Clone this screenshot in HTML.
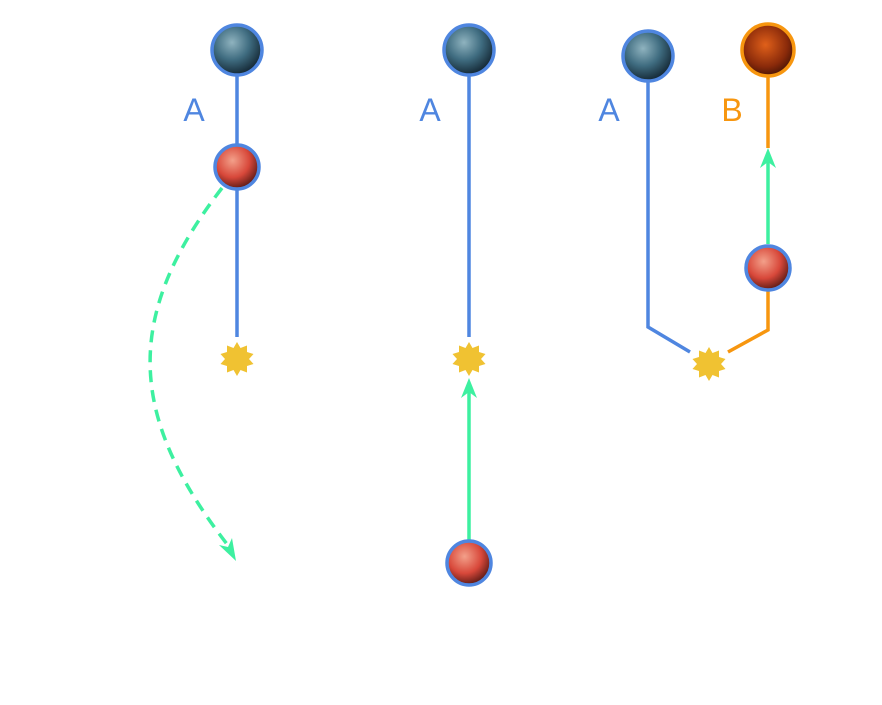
<!DOCTYPE html>
<html><head><meta charset="utf-8"><style>body{margin:0;background:#fff}svg{display:block}</style></head><body>
<svg width="882" height="705" viewBox="0 0 882 705" xmlns="http://www.w3.org/2000/svg">
<defs>
<radialGradient id="earth" cx="40%" cy="35%" r="70%"><stop offset="0" stop-color="#8fb3bf"/><stop offset="0.5" stop-color="#3f6c80"/><stop offset="1" stop-color="#0e1e2a"/></radialGradient>
<radialGradient id="mars" cx="40%" cy="35%" r="70%"><stop offset="0" stop-color="#f3a08a"/><stop offset="0.55" stop-color="#d8483a"/><stop offset="1" stop-color="#4a1410"/></radialGradient>
<radialGradient id="lava" cx="45%" cy="40%" r="70%"><stop offset="0" stop-color="#e0601a"/><stop offset="0.6" stop-color="#8a2a0a"/><stop offset="1" stop-color="#2a0a04"/></radialGradient>
<g id="sun"><polygon fill="#f0c232" points="0,-17 3.5,-11 10,-13.5 10,-7 16.5,-5 12,0 16.5,5 10,7 10,13.5 3.5,11 0,17 -3.5,11 -10,13.5 -10,7 -16.5,5 -12,0 -16.5,-5 -10,-7 -10,-13.5 -3.5,-11"/></g>
</defs>
<g fill="none" stroke-width="3.5">
<line x1="237" y1="75" x2="237" y2="145" stroke="#4f86e0"/>
<line x1="237" y1="190" x2="237" y2="337" stroke="#4f86e0"/>
<path d="M222,188 C120,320 130,420 230,548" stroke="#3df0a0" stroke-dasharray="12,8"/>
<line x1="469" y1="75" x2="469" y2="337" stroke="#4f86e0"/>
<line x1="469" y1="540" x2="469" y2="385" stroke="#3df0a0"/>
<polyline points="648,82 648,327 690,352" stroke="#4f86e0"/>
<polyline points="728,352 768,330 768,291" stroke="#f7960f"/>
<line x1="768" y1="244" x2="768" y2="160" stroke="#3df0a0"/>
<line x1="768" y1="75" x2="768" y2="148" stroke="#f7960f"/>
</g>
<polygon points="469,378 461,398 469,392 477,398" fill="#3df0a0"/>
<polygon points="768,148 760,168 768,162 776,168" fill="#3df0a0"/>
<polygon points="236,561 219,545 228,547 232,538" fill="#3df0a0"/>
<g stroke="#4f86e0" stroke-width="3.5">
<circle cx="237" cy="50" r="25" fill="url(#earth)"/>
<circle cx="237" cy="167" r="22" fill="url(#mars)"/>
<circle cx="469" cy="50" r="25" fill="url(#earth)"/>
<circle cx="469" cy="563" r="22" fill="url(#mars)"/>
<circle cx="648" cy="56" r="25" fill="url(#earth)"/>
<circle cx="768" cy="268" r="22" fill="url(#mars)"/>
</g>
<circle cx="768" cy="50" r="26" fill="url(#lava)" stroke="#f7960f" stroke-width="3.5"/>
<use href="#sun" x="237" y="359"/>
<use href="#sun" x="469" y="359"/>
<use href="#sun" x="709" y="364"/>
<g font-family="Liberation Sans, sans-serif" font-size="32" text-anchor="middle">
<text x="194" y="121" fill="#4f86e0">A</text>
<text x="430" y="121" fill="#4f86e0">A</text>
<text x="609" y="121" fill="#4f86e0">A</text>
<text x="732" y="121" fill="#f7960f">B</text>
</g>
</svg>
</body></html>
